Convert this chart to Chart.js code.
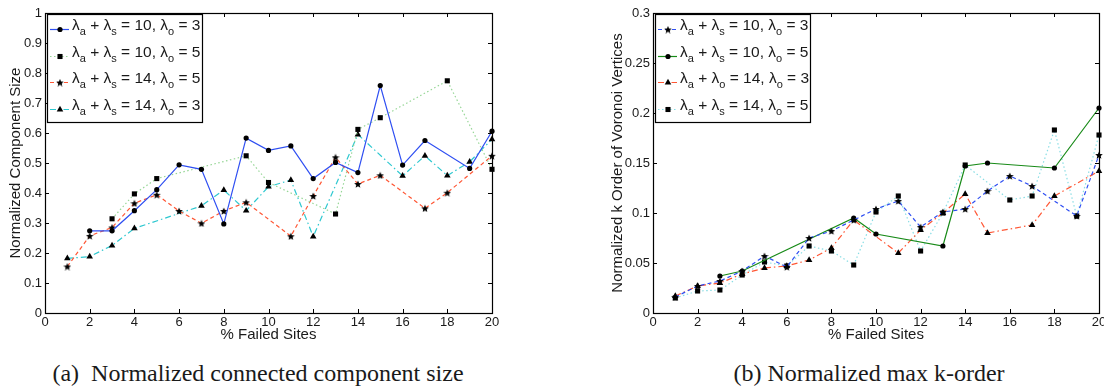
<!DOCTYPE html>
<html>
<head>
<meta charset="utf-8">
<script src="https://cdn.jsdelivr.net/npm/chart.js@4.4.1/dist/chart.umd.min.js"></script>
<style>
  html, body { margin: 0; padding: 0; background: #fff; }
  body { position: relative; width: 1104px; height: 388px; overflow: hidden; }
  .box { position: absolute; top: 0; }
  .caption {
    position: absolute; top: 361px; width: 440px; text-align: center;
    font-family: "Liberation Serif", "Times New Roman", serif; font-size: 24px;
    line-height: 24px; color: #1a1a1a; white-space: pre;
  }
</style>
</head>
<body>
<div class="box" style="left:0px"><canvas id="chartA" width="520" height="345"></canvas></div>
<div class="box" style="left:600px"><canvas id="chartB" width="504" height="345"></canvas></div>
<div class="caption" style="left:38px">(a)  Normalized connected component size</div>
<div class="caption" style="left:649px">(b) Normalized max k-order</div>

<script>
// % failed sites (x values shared by every series)
const failedSites = [1, 2, 3, 4, 5, 6, 7, 8, 9, 10, 11, 12, 13, 14, 15, 16, 17, 18, 19, 20];

// (a) normalized component size, null = no marker at that x
const compLabels = [
  'λ_a + λ_s = 10, λ_o = 3',
  'λ_a + λ_s = 10, λ_o = 5',
  'λ_a + λ_s = 14, λ_o = 5',
  'λ_a + λ_s = 14, λ_o = 3'
];
const comp10o3 = [null, 0.274, 0.274, 0.341, 0.411, 0.494, 0.479, 0.297, 0.583, 0.542, 0.557, 0.448, 0.502, 0.468, 0.758, 0.493, 0.575, null, 0.482, 0.606];
const comp10o5 = [null, null, 0.314, 0.397, 0.448, null, null, null, 0.524, 0.435, null, null, 0.330, 0.612, 0.651, null, null, 0.774, null, 0.479];
const comp14o5 = [0.155, 0.257, 0.285, 0.366, 0.394, 0.340, 0.299, 0.340, 0.369, null, 0.256, 0.390, 0.519, 0.430, 0.459, null, 0.349, 0.401, null, 0.524];
const comp14o3 = [0.182, 0.188, 0.225, 0.282, null, null, 0.357, 0.410, 0.341, 0.421, 0.443, 0.255, null, 0.595, null, 0.457, 0.524, 0.458, 0.504, 0.579];

// (b) normalized max k-order
const korderLabels = [
  'λ_a + λ_s = 10, λ_o = 3',
  'λ_a + λ_s = 10, λ_o = 5',
  'λ_a + λ_o = 14, λ_o = 3',
  'λ_a + λ_s = 14, λ_o = 5'
];
const kord10o3 = [0.016, 0.027, 0.032, 0.042, 0.057, 0.046, 0.075, 0.082, 0.093, 0.104, 0.112, 0.086, 0.101, 0.104, 0.122, 0.137, 0.127, null, 0.097, 0.158];
const kord10o5 = [null, null, 0.037, 0.042, null, null, null, null, 0.095, 0.079, null, null, 0.067, 0.147, 0.150, null, null, 0.145, null, 0.205];
const kord14o3 = [0.017, 0.027, 0.030, 0.039, 0.045, 0.047, 0.053, 0.065, 0.093, null, 0.060, 0.083, 0.100, 0.119, 0.080, null, 0.088, 0.117, null, 0.142];
const kord14o5 = [0.015, 0.022, 0.023, 0.038, 0.051, 0.047, 0.067, 0.062, 0.048, 0.101, 0.117, 0.062, 0.100, 0.148, null, 0.113, 0.117, 0.183, 0.097, 0.178];

const SANS = '"Liberation Sans", Arial, Helvetica, sans-serif';
const INK = '#1a1a1a';

function toXY(vals) {
    return failedSites.map((x, i) => ({ x: x, y: vals[i] })).filter(p => p.y !== null);
}

// filled five point star, used as a point image
function makeStar(size) {
    const c = document.createElement('canvas');
    c.width = size; c.height = size;
    const g = c.getContext('2d');
    const r = size / 2, ri = r * 0.45;
    g.beginPath();
    for (let k = 0; k < 10; k++) {
        const rr = k % 2 ? ri : r;
        const a = -Math.PI / 2 + k * Math.PI / 5;
        g.lineTo(r + rr * Math.cos(a), r + rr * Math.sin(a) + 0.5);
    }
    g.closePath();
    g.fillStyle = '#000';
    g.fill();
    return c;
}
const starImg = makeStar(8);

function series(label, vals, color, dash, style, radius) {
    return {
        label: label,
        data: toXY(vals),
        borderColor: color,
        borderWidth: 1.2,
        borderDash: dash,
        pointStyle: style,
        pointRadius: radius,
        pointHoverRadius: radius,
        pointBackgroundColor: '#000',
        pointBorderColor: '#000',
        pointBorderWidth: 0,
        tension: 0,
        fill: false,
        clip: false
    };
}

function drawMarker(ctx, style, r, x, y) {
    ctx.fillStyle = '#000';
    if (style instanceof HTMLCanvasElement) {
        ctx.drawImage(style, x - style.width / 2, y - style.height / 2);
        return;
    }
    ctx.beginPath();
    if (style === 'circle') {
        ctx.arc(x, y, r, 0, Math.PI * 2);
    } else if (style === 'rect') {
        const s = Math.SQRT1_2 * r;
        ctx.rect(x - s, y - s, 2 * s, 2 * s);
    } else if (style === 'triangle') {
        let a = 0;
        ctx.moveTo(x + Math.sin(a) * r, y - Math.cos(a) * r);
        a += Math.PI * 2 / 3;
        ctx.lineTo(x + Math.sin(a) * r, y - Math.cos(a) * r);
        a += Math.PI * 2 / 3;
        ctx.lineTo(x + Math.sin(a) * r, y - Math.cos(a) * r);
        ctx.closePath();
    }
    ctx.fill();
}

// text like "λ_a + λ_s = 10" with one-letter subscripts
function drawSubText(ctx, text, x, y) {
    const parts = text.split(/_(.)/);
    ctx.fillStyle = INK;
    ctx.textBaseline = 'alphabetic';
    ctx.textAlign = 'left';
    parts.forEach((p, i) => {
        if (i % 2) {
            ctx.font = '11px ' + SANS;
            ctx.fillText(p, x, y + 5);
        } else {
            ctx.font = '15.5px ' + SANS;
            ctx.fillText(p, x, y);
        }
        x += ctx.measureText(p).width;
    });
}

// matlab style frame: box with inward ticks on all four sides
const framePlugin = {
    id: 'frame',
    afterDatasetsDraw(chart) {
        const { ctx, chartArea: ca, scales } = chart;
        ctx.save();
        ctx.strokeStyle = '#000';
        ctx.lineWidth = 1;
        ctx.setLineDash([]);
        ctx.beginPath();
        scales.x.ticks.forEach(t => {
            const px = Math.round(scales.x.getPixelForValue(t.value)) + 0.5;
            ctx.moveTo(px, ca.bottom); ctx.lineTo(px, ca.bottom - 4);
            ctx.moveTo(px, ca.top); ctx.lineTo(px, ca.top + 4);
        });
        scales.y.ticks.forEach(t => {
            const py = Math.round(scales.y.getPixelForValue(t.value)) + 0.5;
            ctx.moveTo(ca.left, py); ctx.lineTo(ca.left + 4, py);
            ctx.moveTo(ca.right, py); ctx.lineTo(ca.right - 4, py);
        });
        ctx.stroke();
        ctx.lineWidth = 1.2;
        ctx.strokeRect(Math.round(ca.left) + 0.5, Math.round(ca.top) + 0.5,
            Math.round(ca.right - ca.left), Math.round(ca.bottom - ca.top));
        ctx.restore();
    }
};

const legendPlugin = {
    id: 'boxLegend',
    afterDraw(chart) {
        const { ctx, chartArea: ca } = chart;
        const bx = Math.round(ca.left) + 2, by = Math.round(ca.top) + 1, bw = 155, bh = 108;
        ctx.save();
        ctx.fillStyle = '#fff';
        ctx.fillRect(bx, by, bw, bh);
        ctx.strokeStyle = '#000';
        ctx.lineWidth = 1.2;
        ctx.strokeRect(bx + 0.5, by + 0.5, bw, bh);
        chart.data.datasets.forEach((ds, i) => {
            const y = Math.round(by + 15 + i * 26.5) + 0.5;
            ctx.strokeStyle = ds.borderColor;
            ctx.lineWidth = ds.borderWidth;
            ctx.setLineDash(ds.borderDash || []);
            ctx.beginPath();
            ctx.moveTo(bx + 3, y);
            ctx.lineTo(bx + 22, y);
            ctx.stroke();
            ctx.setLineDash([]);
            drawMarker(ctx, ds.pointStyle, ds.pointRadius, bx + 13, y);
            drawSubText(ctx, ds.label, bx + 25, y);
        });
        ctx.restore();
    }
};

function makeChart(id, datasets, yMax, yStep, yTitle, yWidth, yTitlePad, padRight) {
    return new Chart(document.getElementById(id), {
        type: 'line',
        data: { datasets: datasets },
        options: {
            responsive: false,
            animation: false,
            devicePixelRatio: 1,
            layout: { padding: { top: 13, right: padRight, bottom: 0, left: 0 } },
            plugins: { legend: { display: false }, tooltip: { enabled: false } },
            scales: {
                x: {
                    type: 'linear', min: 0, max: 20,
                    grid: { display: false, drawTicks: false },
                    border: { display: false },
                    ticks: { stepSize: 2, padding: 2, color: INK, font: { family: SANS, size: 13 } },
                    title: { display: true, text: '% Failed Sites', color: INK,
                        font: { family: SANS, size: 15 }, padding: { top: 0, bottom: 1 } },
                    afterFit(scale) { scale.height = 32; scale.paddingLeft = 0; scale.paddingRight = 0; }
                },
                y: {
                    type: 'linear', min: 0, max: yMax,
                    grid: { display: false, drawTicks: false },
                    border: { display: false },
                    ticks: { stepSize: yStep, padding: 3, color: INK, font: { family: SANS, size: 13 },
                        callback: v => String(+v.toFixed(2)) },
                    title: { display: true, text: yTitle, color: INK,
                        font: { family: SANS, size: 15 }, padding: { top: yTitlePad, bottom: 0 } },
                    afterFit(scale) { scale.width = yWidth; scale.paddingTop = 0; scale.paddingBottom = 0; }
                }
            }
        },
        plugins: [framePlugin, legendPlugin]
    });
}

makeChart('chartA', [
    series(compLabels[0], comp10o3, '#2f4ff2', [], 'circle', 2.6),
    series(compLabels[1], comp10o5, '#96d696', [1.5, 2.5], 'rect', 3.6),
    series(compLabels[2], comp14o5, '#ff5634', [4, 3], starImg, 3),
    series(compLabels[3], comp14o3, '#2ec8d0', [6, 3, 1.5, 3], 'triangle', 3.8)
], 1, 0.1, 'Normalized Component Size', 45, 7, 28);

makeChart('chartB', [
    series(korderLabels[0], kord10o3, '#2f4ff2', [4, 3], starImg, 3),
    series(korderLabels[1], kord10o5, '#178a17', [], 'circle', 2.6),
    series(korderLabels[2], kord14o3, '#ff5634', [6, 3, 1.5, 3], 'triangle', 3.8),
    series(korderLabels[3], kord14o5, '#88dde4', [1.5, 2.5], 'rect', 3.6)
], 0.3, 0.05, 'Normalized k Order of Voronoi Vertices', 53, 9, 5);
</script>
</body>
</html>
